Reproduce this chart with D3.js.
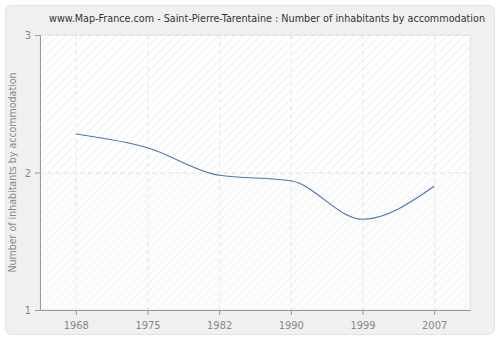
<!DOCTYPE html>
<html>
<head>
<meta charset="utf-8">
<script src="https://cdn.jsdelivr.net/npm/d3@7"></script>
<style>
  body { margin: 0; background: #fff; }
  svg { display: block; font-family: "DejaVu Sans Condensed", "DejaVu Sans", sans-serif; }
</style>
</head>
<body>
<svg id="chart"></svg>
<script>
// Chart data
const years = ['1968', '1975', '1982', '1990', '1999', '2007'];
const inhabitants = [2.28, 2.18, 1.98, 1.94, 1.66, 1.90];
const yTicks = [1, 2, 3];

const width = 500, height = 340;
const margin = { top: 35, right: 30, bottom: 30, left: 40 };
const innerW = width - margin.left - margin.right;
const innerH = height - margin.top - margin.bottom;
const fontFamily = '"DejaVu Sans Condensed", "DejaVu Sans", sans-serif';

const svg = d3.select('#chart')
  .attr('width', width)
  .attr('height', height);

// Hatch patterns for the plot background
const defs = svg.append('defs');
function hatch(id, bg, fg) {
  const p = defs.append('pattern')
    .attr('id', id)
    .attr('patternUnits', 'userSpaceOnUse')
    .attr('width', 6).attr('height', 6)
    .attr('patternTransform', 'rotate(45)');
  p.append('rect').attr('width', 6).attr('height', 6).attr('fill', bg);
  p.append('line').attr('x1', 0).attr('y1', 0).attr('x2', 0).attr('y2', 6)
    .attr('stroke', fg).attr('stroke-width', 1.5);
}
hatch('hatchTop', '#ffffff', '#ececec');
hatch('hatchBottom', '#fcfcfc', '#f2f2f2');

// Outer panel
svg.append('rect')
  .attr('x', 5.5).attr('y', 5.5)
  .attr('width', width - 11).attr('height', height - 11)
  .attr('rx', 6)
  .attr('fill', '#f0f0f0')
  .attr('stroke', '#e2e2e2');

const chart = svg.append('g')
  .attr('transform', `translate(${margin.left},${margin.top})`);

const xScale = d3.scalePoint()
  .domain(years)
  .range([0, innerW])
  .padding(0.5);

const yScale = d3.scaleLinear()
  .domain([1, 3])
  .range([innerH, 0]);

// Plot background: hatched, darker above 2
chart.append('rect')
  .attr('width', innerW).attr('height', yScale(2))
  .attr('fill', 'url(#hatchTop)');
chart.append('rect')
  .attr('y', yScale(2))
  .attr('width', innerW).attr('height', innerH - yScale(2))
  .attr('fill', 'url(#hatchBottom)');
chart.append('rect')
  .attr('width', innerW).attr('height', innerH)
  .attr('fill', 'none')
  .attr('stroke', '#e4e4e4');

// Dashed grid
chart.selectAll('.vgrid')
  .data(years)
  .join('line')
  .attr('class', 'vgrid')
  .attr('x1', d => xScale(d) + 0.5).attr('x2', d => xScale(d) + 0.5)
  .attr('y1', 0).attr('y2', innerH)
  .attr('stroke', '#e2e2e2')
  .attr('stroke-dasharray', '4,4');

chart.selectAll('.hgrid')
  .data(yTicks.slice(1))
  .join('line')
  .attr('class', 'hgrid')
  .attr('x1', 0).attr('x2', innerW)
  .attr('y1', d => yScale(d) + 0.5).attr('y2', d => yScale(d) + 0.5)
  .attr('stroke', '#e2e2e2')
  .attr('stroke-dasharray', '4,4');

// Axes
const xAxis = d3.axisBottom(xScale).tickSize(5).tickSizeOuter(0).tickPadding(6);
const yAxis = d3.axisLeft(yScale).tickValues(yTicks).tickFormat(d3.format('d'))
  .tickSize(5).tickSizeOuter(0).tickPadding(4);

const xAxisG = chart.append('g')
  .attr('transform', `translate(0,${innerH})`)
  .call(xAxis);
const yAxisG = chart.append('g').call(yAxis);

[xAxisG, yAxisG].forEach(g => {
  g.select('.domain').attr('stroke', '#999');
  g.selectAll('.tick line').attr('stroke', '#999');
  g.selectAll('.tick text')
    .attr('fill', '#888')
    .style('font-size', '11px')
    .style('font-family', fontFamily);
});

// Line
const line = d3.line()
  .x((d, i) => xScale(years[i]))
  .y(d => yScale(d))
  .curve(d3.curveMonotoneX);

chart.append('path')
  .datum(inhabitants)
  .attr('fill', 'none')
  .attr('stroke', '#4a76ad')
  .attr('stroke-width', 1.1)
  .attr('d', line);

// Title
svg.append('text')
  .attr('x', 267)
  .attr('y', 22)
  .attr('text-anchor', 'middle')
  .attr('fill', '#333')
  .attr('textLength', 436)
  .attr('lengthAdjust', 'spacingAndGlyphs')
  .style('font-size', '11px')
  .text('www.Map-France.com - Saint-Pierre-Tarentaine : Number of inhabitants by accommodation');

// Y axis title
svg.append('text')
  .attr('transform', `translate(16,${margin.top + innerH / 2}) rotate(-90)`)
  .attr('text-anchor', 'middle')
  .attr('fill', '#888')
  .attr('textLength', 200)
  .attr('lengthAdjust', 'spacingAndGlyphs')
  .style('font-size', '11px')
  .text('Number of inhabitants by accommodation');
</script>
</body>
</html>
